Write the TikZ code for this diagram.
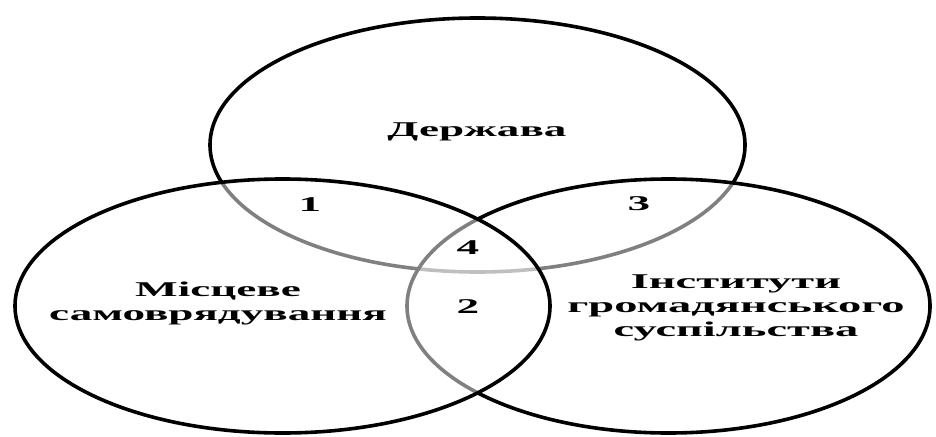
\documentclass[tikz,border=0pt]{standalone}
\usepackage{fontspec}
\setmainfont{Liberation Serif}
\usetikzlibrary{shapes.geometric}
\tikzset{
  venn/.style={ellipse, draw=black, line width=3.6pt, inner sep=0pt,
    minimum width=535pt, minimum height=254pt},
  vennfaded/.style={venn, fill=white, fill opacity=0.5, draw opacity=1},
  lbl/.style={font=\bfseries\fontsize{21}{24}\selectfont, align=center,
    xscale=2.15, inner sep=0pt, text=black},
}
\begin{document}
\begin{tikzpicture}[x=1pt,y=-1pt]
\useasboundingbox (0,0) rectangle (936,436);
\node[venn] (state) at (477.5,145) {};
\node[vennfaded, minimum width=523pt] (civil) at (668.5,306) {};
\node[vennfaded] (local) at (282.5,306) {};
\node[lbl] (tstate) at (477,132) {Держава};
\node[lbl] (tlocal) at (218,303) {Місцеве\\самоврядування};
\node[lbl, xscale=1.03] (tcivil) at (736,308) {Інститути\\громадянського\\суспільства};
\node[lbl] (n1) at (310,205) {1};
\node[lbl] (n3) at (639,204) {3};
\node[lbl] (n4) at (468,248) {4};
\node[lbl] (n2) at (468,307) {2};
\end{tikzpicture}
\end{document}
